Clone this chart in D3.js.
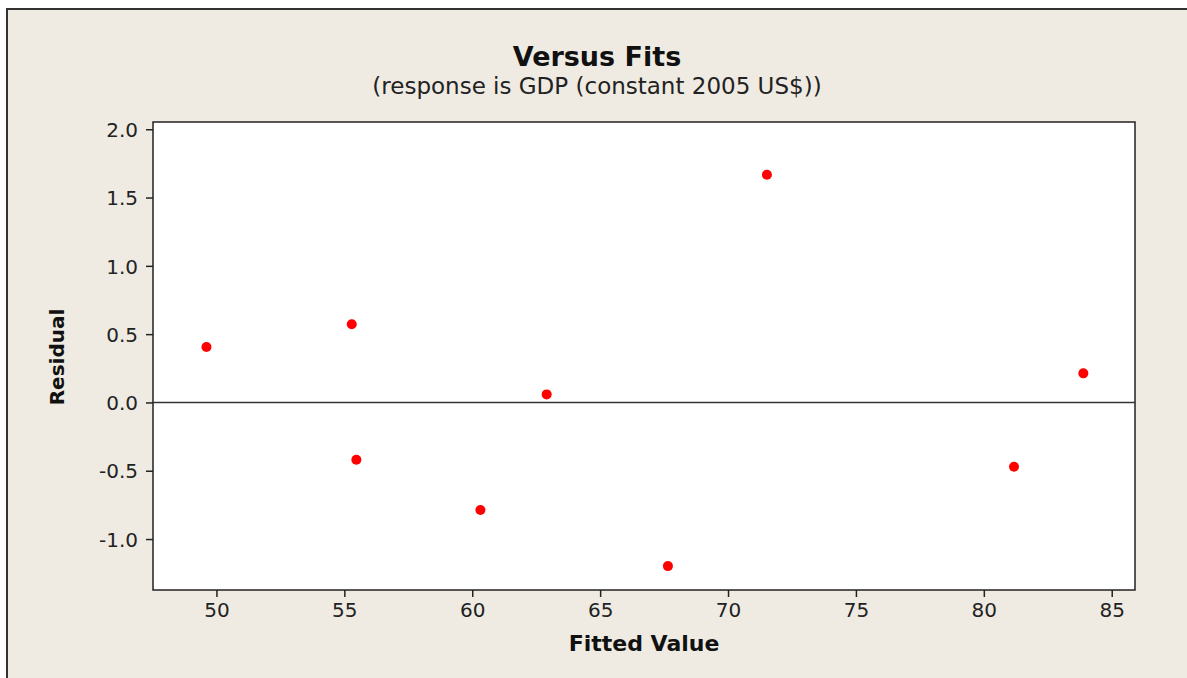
<!DOCTYPE html>
<html>
<head>
<meta charset="utf-8">
<script src="https://cdn.jsdelivr.net/npm/d3@7"></script>
<style>
  body { margin: 0; background: #ffffff; }
  .axis text { font-family: "DejaVu Sans", Verdana, sans-serif; font-size: 20px; fill: #222; }
  .axis path, .axis line { stroke: #222; stroke-width: 1.5; }
</style>
</head>
<body>
<script>
// fitted values and residuals
let fittedValues = [49.61, 55.29, 55.47, 62.91, 60.32, 71.52, 67.65, 83.89, 81.18];
let residuals = [0.406, 0.572, -0.419, 0.059, -0.788, 1.667, -1.198, 0.213, -0.471];
let xTicks = [50, 55, 60, 65, 70, 75, 80, 85];
let yTicks = [-1.0, -0.5, 0.0, 0.5, 1.0, 1.5, 2.0];

let svgContainer,
    svgWidth = 1187,
    svgHeight = 678,
    plot = {
        left: 153,
        top: 122,
        right: 1135,
        bottom: 590
    },
    xDomain = [47.52, 85.91],
    yDomain = [-1.373, 2.053];

function init() {
    drawSvgContainer(svgWidth, svgHeight);
    let xScale = d3.scaleLinear().domain(xDomain).range([plot.left, plot.right]);
    let yScale = d3.scaleLinear().domain(yDomain).range([plot.bottom, plot.top]);
    drawPlotArea();
    drawZeroLine(xScale, yScale);
    drawPoints(xScale, yScale, "#ff0000");
    drawAxes(xScale, yScale);
    drawTitles();
}

function drawSvgContainer(width, height) {
    svgContainer = d3.select("body").append("svg")
    .attr("width", width)
    .attr("height", height);

    // beige frame round the whole graph
    svgContainer.append("rect")
    .attr("x", 7)
    .attr("y", 9)
    .attr("width", width + 10)
    .attr("height", height + 10)
    .style("fill", "#efebe2")
    .style("stroke", "#333")
    .style("stroke-width", 2);
}

function drawPlotArea() {
    svgContainer.append("rect")
    .attr("x", plot.left)
    .attr("y", plot.top)
    .attr("width", plot.right - plot.left)
    .attr("height", plot.bottom - plot.top)
    .style("fill", "#ffffff")
    .style("stroke", "#222")
    .style("stroke-width", 1.5);
}

function drawZeroLine(xScale, yScale) {
    svgContainer.append("line")
    .attr("x1", plot.left)
    .attr("x2", plot.right)
    .attr("y1", yScale(0))
    .attr("y2", yScale(0))
    .style("stroke", "#333")
    .style("stroke-width", 1.5);
}

function drawPoints(xScale, yScale, color) {
    fittedValues.forEach((fit, i) => {
        svgContainer.append("circle")
        .attr("cx", xScale(fit))
        .attr("cy", yScale(residuals[i]))
        .attr("r", 5)
        .style("fill", color);
    });
}

function drawAxes(xScale, yScale) {
    let xAxis = d3.axisBottom(xScale).tickValues(xTicks).tickSize(7).tickPadding(6).tickFormat(d3.format("d"));
    // plain hyphen for negatives, like the original
    let yAxis = d3.axisLeft(yScale).tickValues(yTicks).tickSize(7).tickPadding(8)
        .tickFormat(d => d3.format(".1f")(d).replace("\u2212", "-"));

    let gx = svgContainer.append("g")
    .attr("class", "axis")
    .attr("transform", "translate(0," + plot.bottom + ")")
    .call(xAxis);
    gx.select(".domain").remove();

    let gy = svgContainer.append("g")
    .attr("class", "axis")
    .attr("transform", "translate(" + plot.left + ",0)")
    .call(yAxis);
    gy.select(".domain").remove();
    gy.selectAll("text").attr("dy", "0.36em");
}

function drawTitles() {
    svgContainer.append("text")
    .attr("x", 597)
    .attr("y", 66)
    .attr("text-anchor", "middle")
    .style("font-family", "DejaVu Sans, Verdana, sans-serif")
    .style("font-weight", "bold")
    .style("font-size", "27px")
    .style("fill", "#111")
    .text("Versus Fits");

    svgContainer.append("text")
    .attr("x", 597)
    .attr("y", 94)
    .attr("text-anchor", "middle")
    .style("font-family", "DejaVu Sans, Verdana, sans-serif")
    .style("font-size", "23px")
    .style("fill", "#222")
    .text("(response is GDP (constant 2005 US$))");

    svgContainer.append("text")
    .attr("x", (plot.left + plot.right) / 2)
    .attr("y", 651)
    .attr("text-anchor", "middle")
    .style("font-family", "DejaVu Sans, Verdana, sans-serif")
    .style("font-weight", "bold")
    .style("font-size", "22px")
    .style("fill", "#111")
    .text("Fitted Value");

    svgContainer.append("text")
    .attr("transform", "translate(64," + 357 + ") rotate(-90)")
    .attr("text-anchor", "middle")
    .style("font-family", "DejaVu Sans, Verdana, sans-serif")
    .style("font-weight", "bold")
    .style("font-size", "20px")
    .style("fill", "#111")
    .text("Residual");
}

init();
</script>
</body>
</html>
